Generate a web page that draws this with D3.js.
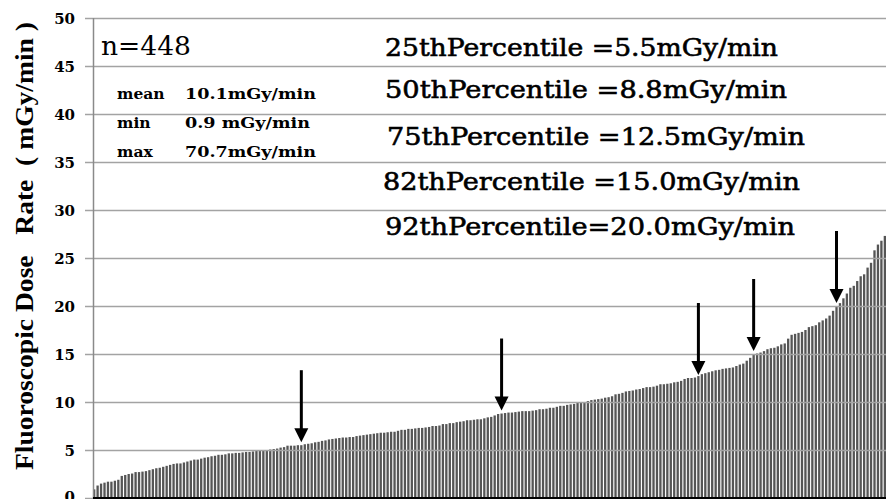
<!DOCTYPE html>
<html><head><meta charset="utf-8">
<script src="https://cdn.jsdelivr.net/npm/d3@7"></script>
<style>html,body{margin:0;padding:0;background:#fff;overflow:hidden}</style>
</head><body>
<svg id="chart" width="886" height="499"></svg>
<script>
// Sorted fluoroscopic dose rates (mGy/min)
const values = [
0.9,1.3,1.5,1.6,1.7,1.7,1.8,1.9,2.3,2.4,
2.5,2.55,2.7,2.7,2.75,2.8,2.9,3.0,3.1,3.15,
3.25,3.35,3.45,3.55,3.6,3.6,3.7,3.8,3.9,4.0,
4.0,4.1,4.2,4.25,4.35,4.4,4.5,4.5,4.55,4.65,
4.65,4.7,4.7,4.75,4.8,4.8,4.85,4.9,4.95,5.0,
5.0,5.05,5.1,5.15,5.25,5.3,5.45,5.45,5.45,5.5,
5.5,5.6,5.65,5.7,5.8,5.85,5.95,6.0,6.1,6.15,
6.2,6.25,6.3,6.3,6.35,6.35,6.45,6.5,6.55,6.6,
6.65,6.7,6.75,6.8,6.8,6.85,6.9,6.9,7.0,7.1,
7.1,7.2,7.2,7.25,7.3,7.3,7.35,7.4,7.5,7.5,
7.55,7.7,7.7,7.8,7.8,7.9,7.95,8.0,8.1,8.1,
8.15,8.2,8.2,8.3,8.4,8.45,8.6,8.75,8.8,8.85,
8.9,8.9,8.95,9.0,9.05,9.05,9.05,9.1,9.15,9.25,
9.25,9.3,9.4,9.4,9.5,9.6,9.6,9.7,9.75,9.8,
9.9,9.9,10.0,10.1,10.2,10.25,10.3,10.35,10.45,10.5,
10.6,10.8,10.85,10.95,11.1,11.15,11.2,11.3,11.35,11.45,
11.55,11.55,11.6,11.7,11.85,11.85,11.9,11.95,12.05,12.1,
12.2,12.4,12.5,12.5,12.55,12.7,12.9,13.0,13.1,13.2,
13.3,13.35,13.45,13.5,13.55,13.6,13.75,13.9,14.0,14.3,
14.6,14.9,15.05,15.15,15.3,15.5,15.6,15.65,15.8,16.0,
16.1,16.6,17.0,17.1,17.2,17.3,17.5,17.8,17.9,18.0,
18.3,18.5,18.7,19.0,19.5,20.0,20.3,20.8,21.3,21.9,
22.1,22.6,23.1,23.3,24.0,24.5,25.8,26.4,26.8,27.3,
28.5,30.2,34.5,41.0,52.3,70.7
];
const yTicks = [0,5,10,15,20,25,30,35,40,45,50];
const percentiles = [25,50,75,82,92];
const percentileValues = [5.5,8.8,12.5,15.0,20.0];
const percentileLabels = [
  "25thPercentile =5.5mGy/min",
  "50thPercentile =8.8mGy/min",
  "75thPercentile =12.5mGy/min",
  "82thPercentile =15.0mGy/min",
  "92thPercentile=20.0mGy/min"
];
const arrowIndex = [60,118,175,191,215];
const nLabel = "n=448";
const statNames = ["mean","min","max"];
const statValues = ["10.1mGy/min","0.9 mGy/min","70.7mGy/min"];
const yTitle = "Fluoroscopic Dose\u00a0\u00a0\u00a0Rate\u00a0\u00a0(\u00a0mGy/min\u00a0)";

const svg = d3.select("#chart");
const left = 93, step = 3.448, y0px = 498, y50px = 18;
const x = d3.scaleBand().domain(d3.range(values.length))
  .range([left, left + values.length * step]).paddingInner(0.33).paddingOuter(0);
const y = d3.scaleLinear().domain([0,50]).range([y0px, y50px]);

// bars
svg.append("g").selectAll("rect").data(values).join("rect")
  .attr("x", (d,i) => x(i)).attr("width", x.bandwidth())
  .attr("y", d => y(d)).attr("height", d => y(0) - y(d))
  .attr("fill", "#555555");

// gridlines + ticks
const yAxis = d3.axisLeft(y).tickValues(yTicks).tickSize(-(886-left)).tickPadding(18);
const gA = svg.append("g").attr("transform", `translate(${left},0)`).call(yAxis);
gA.select(".domain").remove();
gA.selectAll(".tick line").attr("stroke", "#a3a3a3").attr("stroke-width", 1.4).attr("x1", -8);
gA.selectAll(".tick text").attr("font-family", "'DejaVu Serif', serif").attr("font-weight", "bold")
  .attr("font-size", 15).attr("fill", "#000").attr("dy", d => d === 0 ? "0.2em" : "0.36em");
// left axis line
svg.append("line").attr("x1", left+0.5).attr("x2", left+0.5).attr("y1", y(50)).attr("y2", y(0))
  .attr("stroke", "#8a8a8a").attr("stroke-width", 1.5);
// bottom axis line
svg.append("line").attr("x1", left).attr("x2", 886).attr("y1", y(0)).attr("y2", y(0))
  .attr("stroke", "#000").attr("stroke-width", 2);

// y title
svg.append("text").attr("transform", `translate(33,246) rotate(-90)`)
  .attr("text-anchor", "middle").attr("font-family", "'Liberation Serif', serif")
  .attr("font-weight", "bold").attr("font-size", 26)
  .attr("textLength", 448).attr("lengthAdjust", "spacingAndGlyphs")
  .text(yTitle);

// n label
svg.append("text").attr("x", 101).attr("y", 55).attr("font-family", "'DejaVu Serif', serif")
  .attr("font-size", 26).attr("textLength", 90).attr("lengthAdjust", "spacingAndGlyphs").text(nLabel);

// stats
const statY = [99, 128, 157];
const statW = [131, 125, 131];
statNames.forEach((s,i) => {
  svg.append("text").attr("x", 117).attr("y", statY[i]).attr("font-family", "'DejaVu Serif', serif")
    .attr("font-weight", "bold").attr("font-size", 15.5).text(s);
  svg.append("text").attr("x", 185).attr("y", statY[i]).attr("font-family", "'DejaVu Serif', serif")
    .attr("font-weight", "bold").attr("font-size", 15.5)
    .attr("textLength", statW[i]).attr("lengthAdjust", "spacingAndGlyphs").text(statValues[i]);
});

// percentile labels
const pX = [385, 385, 387, 383, 385];
const pY = [56, 98, 145, 190, 235];
const pW = [393, 402, 418, 417, 410];
percentileLabels.forEach((t,i) => {
  svg.append("text").attr("x", pX[i]).attr("y", pY[i]).attr("font-family", "'DejaVu Serif', serif")
    .attr("font-size", 25).attr("stroke", "#000").attr("stroke-width", 0.6)
    .attr("textLength", pW[i]).attr("lengthAdjust", "spacingAndGlyphs").text(t);
});

// arrows
const arrows = svg.append("g");
percentiles.forEach((p,i) => {
  const cx = x(arrowIndex[i]) + x.bandwidth()/2;
  const tip = y(percentileValues[i]) - 3;
  const top = tip - 72;
  arrows.append("line").attr("x1", cx).attr("x2", cx).attr("y1", top).attr("y2", tip - 10)
    .attr("stroke", "#000").attr("stroke-width", 3);
  arrows.append("path").attr("d", `M${cx-7},${tip-14} L${cx+7},${tip-14} L${cx},${tip} Z`).attr("fill", "#000");
});
</script>
</body></html>
